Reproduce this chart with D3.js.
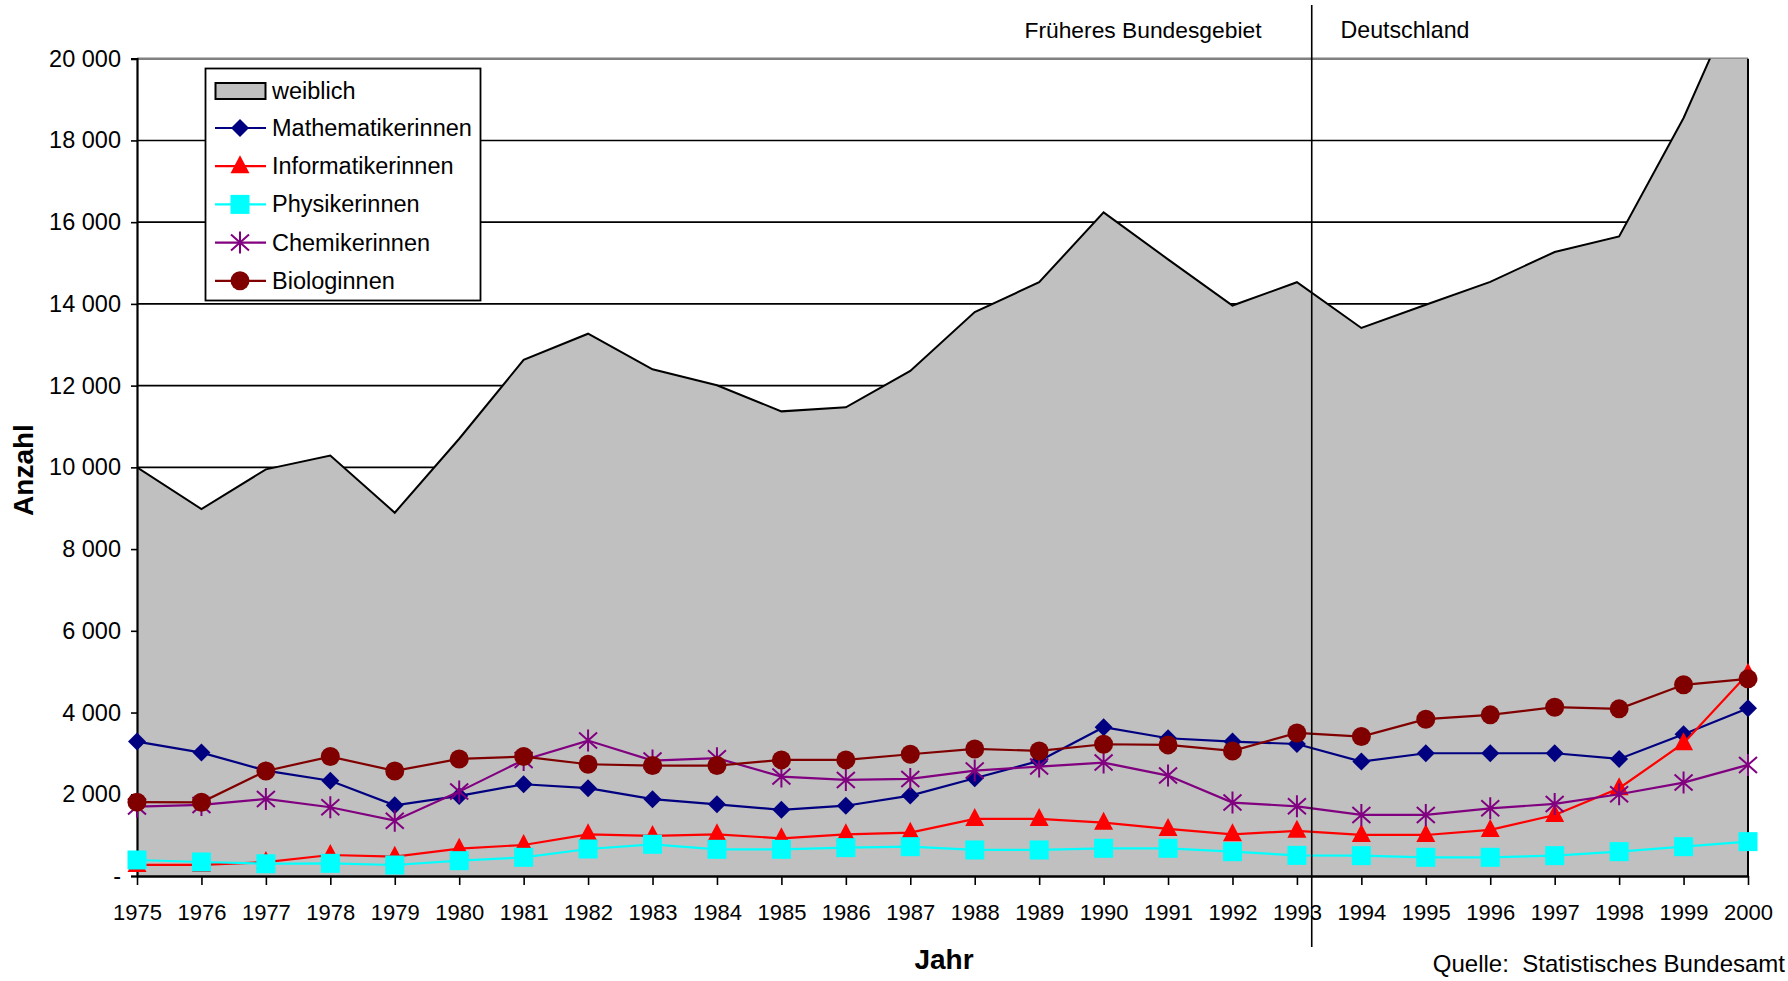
<!DOCTYPE html>
<html><head><meta charset="utf-8">
<script src="https://cdn.jsdelivr.net/npm/d3@7"></script>
<style>
html,body{margin:0;padding:0;background:#fff;}
svg{display:block;font-family:Arial,"Liberation Sans",sans-serif;}
</style></head>
<body>
<svg id="c" width="1788" height="981"></svg>
<script>
const years = [1975,1976,1977,1978,1979,1980,1981,1982,1983,1984,1985,1986,1987,1988,1989,1990,1991,1992,1993,1994,1995,1996,1997,1998,1999,2000];
const weiblich = [10000,8980,9950,10290,8890,10700,12630,13270,12400,12010,11370,11470,12360,13800,14530,16240,15090,13960,14530,13410,13980,14540,15270,15650,18550,22100];
const mathematikerinnen = [3290,3020,2580,2330,1730,1960,2245,2150,1880,1755,1620,1720,1967,2392,2816,3641,3371,3290,3230,2800,3004,3004,3004,2865,3469,4106];
const informatikerinnen = [270,270,340,514,473,669,759,1020,980,1020,922,1020,1061,1396,1396,1306,1151,1020,1105,1004,1004,1127,1494,2147,3249,4950];
const physikerinnen = [392,343,300,310,269,375,457,661,776,653,653,694,718,637,637,678,678,596,505,498,457,457,498,596,718,841];
const chemikerinnen = [1700,1739,1886,1682,1355,2065,2841,3314,2824,2882,2433,2351,2376,2580,2678,2776,2457,1796,1705,1494,1494,1657,1763,2000,2286,2718];
const biologinnen = [1807,1804,2571,2922,2571,2865,2922,2735,2702,2702,2841,2841,2980,3110,3061,3224,3208,3061,3500,3412,3837,3943,4131,4090,4678,4824];
const yTicks = [0,2000,4000,6000,8000,10000,12000,14000,16000,18000,20000];
const seriesNames = ["Mathematikerinnen","Informatikerinnen","Physikerinnen","Chemikerinnen","Biologinnen"];
const seriesColors = ["#000080","#FF0000","#00FFFF","#800080","#800000"];
const seriesShapes = ["diamond","triangle","square","star","circle"];
const seriesValues = [mathematikerinnen,informatikerinnen,physikerinnen,chemikerinnen,biologinnen];
const areaName = "weiblich";
const regionLabels = ["Früheres Bundesgebiet","Deutschland"];
const dividerYear = 1993.23;

const L=137, R=1748, T=58.7, B=876;
const svg = d3.select("#c");
const x = d3.scalePoint().domain(years).range([L,R]);
const y = d3.scaleLinear().domain([0,20000]).range([B,T]);
const step = x.step();
const xNum = v => x(1975) + (v-1975)*step;

svg.append("defs").append("clipPath").attr("id","pc")
  .append("rect").attr("x",L).attr("y",T).attr("width",R-L).attr("height",B-T);

// gridlines
svg.append("g").selectAll("line").data(yTicks.filter(d=>d>0)).join("line")
  .attr("x1",L).attr("x2",R).attr("y1",d=>y(d)).attr("y2",d=>y(d))
  .attr("stroke",d=>d===20000?"#808080":"#000").attr("stroke-width",d=>d===20000?2.5:1.6);

// area
const gp = svg.append("g").attr("clip-path","url(#pc)");
gp.append("path").datum(weiblich)
  .attr("d", d3.area().x((d,i)=>x(years[i])).y0(B).y1(d=>y(d)))
  .attr("fill","#C0C0C0");
gp.append("path").datum(weiblich)
  .attr("d", d3.line().x((d,i)=>x(years[i])).y(d=>y(d)))
  .attr("fill","none").attr("stroke","#000").attr("stroke-width",2);
svg.append("line").attr("x1",R).attr("x2",R).attr("y1",T).attr("y2",B).attr("stroke","#000").attr("stroke-width",2);

// axes
const yAxis = d3.axisLeft(y).tickValues(yTicks).tickSize(6).tickPadding(10)
  .tickFormat(d=> d===0 ? "-" : d3.format(",")(d).replace(/,/g," "));
const ga = svg.append("g").attr("transform",`translate(${L},0)`).call(yAxis);
ga.select(".domain").attr("stroke-width",2.2);
ga.selectAll(".tick line").attr("stroke-width",1.6);
ga.selectAll("text").attr("font-size",23.5).attr("font-family",'Arial,"Liberation Sans",sans-serif').attr("fill","#000");

const xAxis = d3.axisBottom(x).tickSize(9).tickPadding(19).tickSizeOuter(0);
const gx = svg.append("g").attr("transform",`translate(0,${B})`).call(xAxis);
gx.select(".domain").attr("stroke-width",2.5);
gx.selectAll(".tick line").attr("stroke-width",1.6);
gx.selectAll("text").attr("font-size",22).attr("font-family",'Arial,"Liberation Sans",sans-serif').attr("fill","#000");

// markers
function marker(sel, shape, color){
  if(shape==="diamond") sel.append("path").attr("d","M0,-9L9,0L0,9L-9,0Z").attr("fill",color);
  else if(shape==="triangle") sel.append("path").attr("d","M0,-11L9.5,7L-9.5,7Z").attr("fill",color);
  else if(shape==="square") sel.append("rect").attr("x",-9.5).attr("y",-9.5).attr("width",19).attr("height",19).attr("fill",color);
  else if(shape==="circle") sel.append("circle").attr("r",9.5).attr("fill",color);
  else if(shape==="star") sel.append("path").attr("d","M0,-11L0,11M-9,-8L9,8M-9,8L9,-8").attr("stroke",color).attr("stroke-width",2).attr("fill","none");
}

seriesValues.forEach((vals,si)=>{
  const g = svg.append("g");
  g.append("path").datum(vals)
    .attr("d", d3.line().x((d,i)=>x(years[i])).y(d=>y(d)))
    .attr("fill","none").attr("stroke",seriesColors[si]).attr("stroke-width",2.2);
  g.selectAll("g").data(vals).join("g")
    .attr("transform",(d,i)=>`translate(${x(years[i])},${y(d)})`)
    .each(function(){ marker(d3.select(this), seriesShapes[si], seriesColors[si]); });
});

// divider
const dx = xNum(dividerYear);
svg.append("line").attr("x1",dx).attr("x2",dx).attr("y1",5).attr("y2",947).attr("stroke","#000").attr("stroke-width",1.6);

// region labels
svg.append("text").attr("x",1143).attr("y",38).attr("text-anchor","middle").attr("font-size",22.8).text(regionLabels[0]);
svg.append("text").attr("x",1405).attr("y",38).attr("text-anchor","middle").attr("font-size",23.2).text(regionLabels[1]);

// axis titles
svg.append("text").attr("transform","translate(33,470) rotate(-90)").attr("text-anchor","middle")
  .attr("font-size",28).attr("font-weight","bold").text("Anzahl");
svg.append("text").attr("x",944).attr("y",969).attr("text-anchor","middle")
  .attr("font-size",28).attr("font-weight","bold").text("Jahr");
svg.append("text").attr("x",1785).attr("y",972).attr("text-anchor","end").attr("font-size",24)
  .style("white-space","pre").text("Quelle:  Statistisches Bundesamt");

// legend
const lg = svg.append("g");
lg.append("rect").attr("x",205.5).attr("y",68.5).attr("width",275).attr("height",232)
  .attr("fill","#fff").attr("stroke","#000").attr("stroke-width",1.8);
lg.append("rect").attr("x",215.5).attr("y",83).attr("width",50).attr("height",16)
  .attr("fill","#C0C0C0").attr("stroke","#000").attr("stroke-width",2);
lg.append("text").attr("x",272).attr("y",99).attr("font-size",23.5).text(areaName);
seriesNames.forEach((n,i)=>{
  const cy = 128 + i*38.2;
  lg.append("line").attr("x1",215).attr("x2",266).attr("y1",cy).attr("y2",cy)
    .attr("stroke",seriesColors[i]).attr("stroke-width",2.2);
  const m = lg.append("g").attr("transform",`translate(240,${cy})`);
  marker(m, seriesShapes[i], seriesColors[i]);
  lg.append("text").attr("x",272).attr("y",cy+8).attr("font-size",23.5).text(n);
});
</script>
</body></html>
